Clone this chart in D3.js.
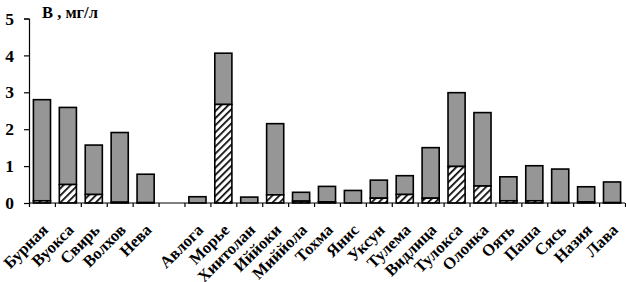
<!DOCTYPE html>
<html>
<head>
<meta charset="utf-8">
<script src="https://cdn.jsdelivr.net/npm/d3@7"></script>
<style>
  body { margin: 0; background: #fff; }
  svg { display: block; }
  text { font-family: "Liberation Serif", "Times New Roman", serif; font-weight: bold; }
</style>
</head>
<body>
<svg id="chart"></svg>
<script>
const W = 626, H = 282;

// "" is the empty slot between the big rivers and the small ones
const rivers = ["Бурная", "Вуокса", "Свирь", "Волхов", "Нева", "",
    "Авлога", "Морье", "Хиитолан", "Иййоки", "Миййола", "Тохма", "Янис", "Уксун",
    "Тулема", "Видлица", "Тулокса", "Олонка", "Оять", "Паша", "Сясь", "Назия", "Лава"];
// hatched lower part
const partA = [0.06, 0.5, 0.23, 0.02, 0.01, 0,
    0, 2.67, 0, 0.22, 0.05, 0.03, 0, 0.13,
    0.23, 0.13, 0.99, 0.46, 0.06, 0.06, 0.01, 0.03, 0.01];
// bar total
const total = [2.8, 2.59, 1.57, 1.91, 0.78, 0,
    0.17, 4.06, 0.16, 2.15, 0.29, 0.45, 0.34, 0.62,
    0.74, 1.5, 2.99, 2.45, 0.71, 1.01, 0.92, 0.44, 0.57];
const yTicks = [0, 1, 2, 3, 4, 5];
const yTitle = "В , мг/л";

const svg = d3.select("#chart").attr("width", W).attr("height", H);

const defs = svg.append("defs");
const pat = defs.append("pattern")
    .attr("id", "hatch")
    .attr("patternUnits", "userSpaceOnUse")
    .attr("width", 5).attr("height", 5)
    .attr("patternTransform", "rotate(45)");
pat.append("rect").attr("width", 5).attr("height", 5).attr("fill", "#fff");
pat.append("line").attr("x1", 0).attr("y1", 0).attr("x2", 0).attr("y2", 5)
    .attr("stroke", "#000").attr("stroke-width", 3.4);

const x = d3.scaleBand().domain(d3.range(rivers.length))
    .range([29, 625]).paddingInner(0.34).paddingOuter(0.17);
const xEdge = d3.scaleLinear().domain([0, rivers.length]).range([29, 625]);
const y = d3.scaleLinear().domain([0, 5]).range([203, 18.5]);

const data = rivers.map((r, i) => ({ name: r, i, a: partA[i], t: total[i] }))
    .filter(d => d.name !== "");

// grey upper part
svg.append("g").selectAll("rect").data(data).join("rect")
    .attr("x", d => x(d.i)).attr("width", x.bandwidth())
    .attr("y", d => y(d.t)).attr("height", d => y(d.a) - y(d.t))
    .attr("fill", "#969696").attr("stroke", "#000").attr("stroke-width", 1.6);

// hatched part
svg.append("g").selectAll("rect").data(data.filter(d => d.a > 0)).join("rect")
    .attr("x", d => x(d.i)).attr("width", x.bandwidth())
    .attr("y", d => y(d.a)).attr("height", d => y(0) - y(d.a))
    .attr("fill", "url(#hatch)").attr("stroke", "#000").attr("stroke-width", 1.6);

// y axis
const yAxis = svg.append("g").attr("transform", "translate(29,0)")
    .call(d3.axisLeft(y).tickValues(yTicks).tickSize(5).tickPadding(10).tickFormat(d3.format("d")));
yAxis.selectAll("text").attr("font-size", 17.5).attr("fill", "#000")
    .attr("font-family", "Liberation Serif").attr("font-weight", "bold");
yAxis.selectAll("line, path").attr("stroke", "#000").attr("stroke-width", 1.2);

// x axis with ticks between categories
const xAxis = svg.append("g").attr("transform", "translate(0,203)")
    .call(d3.axisBottom(xEdge).tickValues(d3.range(rivers.length + 1)).tickSize(4).tickFormat(""));
xAxis.select(".domain").attr("d", `M29,0H625`);
xAxis.selectAll("line, path").attr("stroke", "#000").attr("stroke-width", 1.2);

// rotated category labels
svg.append("g").selectAll("text").data(data).join("text")
    .attr("transform", d => `translate(${x(d.i) + x.bandwidth() / 2 + 7},231) rotate(-45)`)
    .attr("text-anchor", "end")
    .attr("font-size", 16.5)
    .text(d => d.name);

svg.append("text").attr("x", 42).attr("y", 18)
    .attr("font-size", 16.5).text(yTitle);
</script>
</body>
</html>
